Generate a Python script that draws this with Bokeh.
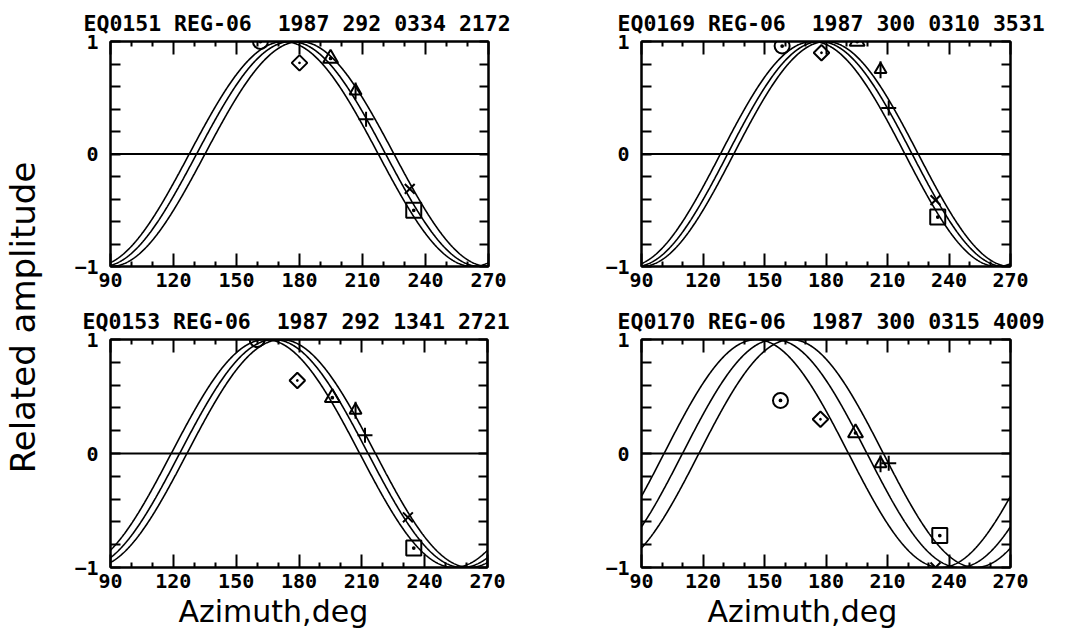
import numpy as np
from bokeh.plotting import figure
from bokeh.models import (FixedTicker, LinearAxis, Span, Label, Range1d, ColumnDataSource,
                          Title, CustomLabelingPolicy)
from bokeh.layouts import row, column
from bokeh.embed import file_html
from bokeh.resources import INLINE

# ---------------- data ----------------
titles = ["EQ0151 REG-06\u00a0 1987 292 0334 2172",
          "EQ0169 REG-06\u00a0 1987 300 0310 3531",
          "EQ0153 REG-06\u00a0 1987 292 1341 2721",
          "EQ0170 REG-06\u00a0 1987 300 0315 4009"]

# phase (azimuth of maximum, deg) of the three model curves in each panel
phases_tl = [172.5, 176.0, 180.0]
phases_tr = [173.5, 177.0, 180.0]
phases_bl = [164.0, 168.0, 171.5]
phases_br = [146.0, 155.0, 163.0]

# observed points: azimuth (deg) and related amplitude
az_tl = [161.4, 180.0, 194.8, 206.7, 211.7, 232.5, 234.4]
amp_tl = [1.0, 0.81, 0.85, 0.56, 0.31, -0.31, -0.50]
az_tr = [158.6, 177.8, 195.2, 206.6, 210.6, 233.4, 234.5]
amp_tr = [0.96, 0.90, 1.0, 0.75, 0.41, -0.41, -0.56]
az_bl = [160.0, 179.2, 195.9, 207.0, 211.5, 232.0, 234.8]
amp_bl = [1.0, 0.64, 0.49, 0.38, 0.16, -0.56, -0.83]
az_br = [157.8, 177.3, 194.4, 206.6, 210.6, 233.4, 235.5]
amp_br = [0.465, 0.30, 0.18, -0.09, -0.085, -1.0, -0.72]

x_ticks = [90, 120, 150, 180, 210, 240, 270]
x_minor = [100, 110, 130, 140, 160, 170, 190, 200, 220, 230, 250, 260]
y_ticks = [-1, 0, 1]
y_minor = [-0.8, -0.6, -0.4, -0.2, 0.2, 0.4, 0.6, 0.8]

y_label = "Related amplitude"
x_label = "Azimuth,deg"

# ---------------- styling ----------------
MONO = "DejaVu Sans Mono"
SANS = "DejaVu Sans"

NO_LABELS = CustomLabelingPolicy(code="""
if (indices != null && typeof indices.clone === "function" && typeof indices.unset === "function") {
    const out = indices.clone();
    for (const i of Array.from(indices)) out.unset(i);
    return out;
}
return [];
""")


def make_axis(ticks, minor, show_labels, major_in, minor_in, standoff):
    ax = LinearAxis(ticker=FixedTicker(ticks=ticks, minor_ticks=minor))
    ax.axis_line_color = "black"
    ax.axis_line_width = 2
    ax.major_tick_in = major_in
    ax.major_tick_out = 0
    ax.minor_tick_in = minor_in
    ax.minor_tick_out = 0
    ax.major_tick_line_color = "black"
    ax.major_tick_line_width = 2
    ax.minor_tick_line_color = "black"
    ax.minor_tick_line_width = 2
    if show_labels:
        ax.major_label_text_font = MONO
        ax.major_label_text_font_style = "bold"
        ax.major_label_text_font_size = "20px"
        ax.major_label_text_color = "black"
        ax.major_label_standoff = standoff
    else:
        ax.major_label_policy = NO_LABELS
        ax.major_label_text_font_size = "0px"
        ax.major_label_standoff = 0
    return ax


def panel(title, phases, az, amp, w, h, bl, br, bt, bb, title_off, with_xlabel, xlabel_off):
    p = figure(width=w, height=h, x_range=Range1d(90, 270), y_range=Range1d(-1, 1),
               output_backend="svg", toolbar_location=None,
               x_axis_type=None, y_axis_type=None,
               min_border_left=bl, min_border_right=br,
               min_border_top=bt, min_border_bottom=bb)
    p.grid.visible = False
    p.outline_line_color = "black"
    p.outline_line_width = 2
    p.background_fill_color = "white"
    p.border_fill_color = "white"

    p.add_layout(make_axis(x_ticks, x_minor, True, 13, 5, 6), "below")
    p.add_layout(make_axis(x_ticks, x_minor, False, 13, 5, 0), "above")
    p.add_layout(make_axis(y_ticks, y_minor, True, 10, 10, 12), "left")
    p.add_layout(make_axis(y_ticks, y_minor, False, 9, 9, 0), "right")

    p.add_layout(Span(location=0, dimension="width", line_color="black", line_width=1.8))

    xs = np.arange(90.0, 270.25, 0.25)
    for ph in phases:
        p.line(xs, np.cos(np.radians(2.0 * (xs - ph))), line_color="black", line_width=1.6)

    markers = ["circle_dot", "square_dot", "triangle_dot", "triangle", "cross", "x", "square_dot"]
    sizes = [15, 11, 15, 12, 15, 14, 15]
    angles = [0, np.pi / 4, 0, 0, 0, 0, 0]
    src = ColumnDataSource(dict(x=az, y=amp, m=markers, s=sizes, a=angles))
    p.scatter(x="x", y="y", marker="m", size="s", angle="a", source=src,
              fill_color=None, line_color="black", line_width=2)
    # stem of the arrow-like symbol (4th station)
    p.scatter(x=[az[3]], y=[amp[3]], marker="dash", size=17, angle=np.pi / 2,
              line_color="black", line_width=2)

    p.add_layout(Title(text=title, align="left", offset=title_off, standoff=12,
                       vertical_align="bottom",
                       text_font=MONO, text_font_style="bold", text_font_size="21.5px",
                       text_color="black"), "above")
    if with_xlabel:
        p.add_layout(Title(text=x_label, align="left", offset=xlabel_off, standoff=6,
                           vertical_align="top", text_line_height=1.0,
                           text_font=SANS, text_font_style="normal", text_font_size="30px",
                           text_color="black"), "below")
    return p


tl = panel(titles[0], phases_tl, az_tl, amp_tl, 510, 300, 60, 72, 41, 34, -27, False, 0)
tr = panel(titles[1], phases_tr, az_tr, amp_tr, 505, 300, 81, 55, 41, 34, -24, False, 0)
bl = panel(titles[2], phases_bl, az_bl, amp_bl, 510, 334, 60, 73, 39, 67, -28, True, 68)
br = panel(titles[3], phases_br, az_br, amp_br, 505, 334, 81, 55, 39, 67, -24, True, 66)

yl = figure(width=50, height=634, x_range=Range1d(0, 50), y_range=Range1d(0, 634),
            output_backend="svg", toolbar_location=None, x_axis_type=None, y_axis_type=None,
            min_border=0, outline_line_color=None)
yl.grid.visible = False
yl.add_layout(Label(x=22, y=317, text=y_label, angle=np.pi / 2, text_align="center",
                    text_baseline="middle", text_font=SANS, text_font_size="34px",
                    text_color="black"))

layout = row(yl, column(row(tl, tr), row(bl, br)))

open("out.html", "w").write(file_html(layout, INLINE))
